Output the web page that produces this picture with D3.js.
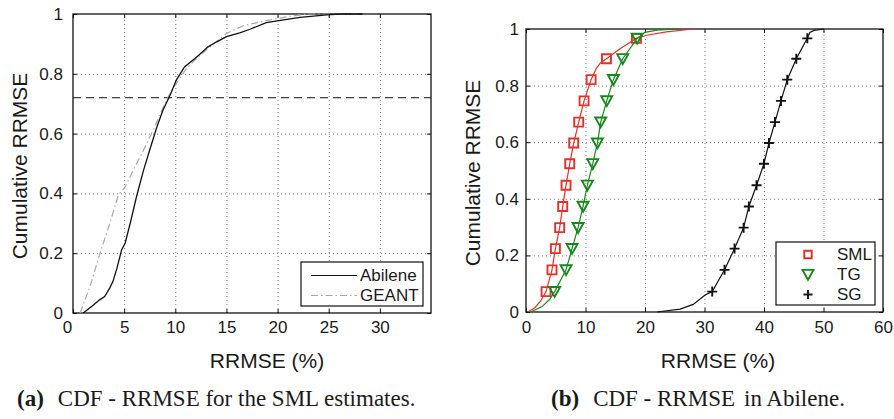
<!DOCTYPE html>
<html lang="en">
<head>
    <meta charset="UTF-8">
    <title>CDF - RRMSE</title>
    <style>
        body, html {
            margin: 0;
            padding: 0;
            background: #fff;
            overflow: hidden;
        }
        text {
            font-family: "Liberation Sans", Arial, sans-serif;
            fill: #1a1a1a;
        }
        .caption text, text.caption {
            font-family: "Liberation Serif", "Times New Roman", serif;
        }
    </style>
</head>
<body>
    <script src="https://d3js.org/d3.v7.min.js"></script>
    <script>
        // ---- panel (a): SML estimates, Abilene vs GEANT ----
        var abileneX = [1.0, 2.0, 2.6, 3.1, 3.6, 3.9, 4.3, 4.75, 5.1, 5.6, 6.2, 6.9, 7.5, 8.2, 8.8, 9.5, 10.1, 10.9, 12.1, 13.2, 14.05, 15.0, 16.3, 17.3, 18.9, 20.6, 22.2, 24.8, 26.1, 28.3];
        var abileneY = [0, 0.027, 0.044, 0.055, 0.084, 0.105, 0.15, 0.211, 0.234, 0.301, 0.388, 0.478, 0.545, 0.622, 0.679, 0.729, 0.779, 0.823, 0.856, 0.89, 0.907, 0.924, 0.937, 0.949, 0.971, 0.98, 0.989, 0.997, 1, 1];
        var geantX = [0.7, 1.66, 2.64, 3.6, 4.43, 5.1, 5.9, 6.9, 7.85, 8.7, 9.3, 10.1, 11.1, 12.1, 13.2, 15.0, 16.6, 18.3, 20.6, 22.8, 28.2];
        var geantY = [0, 0.088, 0.2, 0.3, 0.394, 0.422, 0.478, 0.545, 0.612, 0.679, 0.723, 0.768, 0.818, 0.852, 0.885, 0.935, 0.96, 0.974, 0.989, 1, 1];
        var refLevel = 0.72;
        var xTicksA = [0, 5, 10, 15, 20, 25, 30];

        // ---- panel (b): Abilene, SML vs TG vs SG ----
        var markerY = [0.072, 0.149, 0.224, 0.298, 0.373, 0.448, 0.524, 0.597, 0.671, 0.746, 0.821, 0.895, 0.967];
        var smlMarkX = [3.37, 4.37, 4.94, 5.66, 6.17, 6.73, 7.35, 8.02, 8.86, 9.76, 10.94, 13.52, 18.56];
        var tgMarkX = [4.82, 6.73, 7.74, 8.75, 9.59, 10.32, 11.22, 12.0, 12.56, 13.57, 14.69, 16.26, 18.68];
        var sgMarkX = [31.3, 33.37, 35.05, 36.57, 37.46, 38.75, 39.99, 40.83, 41.84, 42.85, 43.91, 45.43, 47.28];

        var smlLineX = [0.3, 1.5, 2.5, 3.37, 4.37, 4.94, 5.66, 6.17, 6.73, 7.35, 8.02, 8.86, 9.76, 10.94, 11.8, 12.5, 13.52, 15.8, 18.56, 20.3, 23.6, 28.1];
        var smlLineY = [0, 0.015, 0.04, 0.072, 0.149, 0.224, 0.298, 0.373, 0.448, 0.524, 0.597, 0.671, 0.746, 0.821, 0.86, 0.88, 0.895, 0.93, 0.967, 0.978, 0.99, 1];
        var tgLineX = [0.8, 2.7, 4.0, 4.82, 6.73, 7.74, 8.75, 9.59, 10.32, 11.22, 12.0, 12.56, 13.57, 14.69, 16.26, 18.68, 20, 22, 25.5];
        var tgLineY = [0, 0.019, 0.045, 0.072, 0.149, 0.224, 0.298, 0.373, 0.448, 0.524, 0.597, 0.671, 0.746, 0.821, 0.895, 0.967, 0.988, 0.996, 1];
        var sgLineX = [22, 25.9, 28.1, 30.1, 31.3, 33.37, 35.05, 36.57, 37.46, 38.75, 39.99, 40.83, 41.84, 42.85, 43.91, 45.43, 47.28, 47.7, 48.4, 50.1];
        var sgLineY = [0, 0.01, 0.027, 0.06, 0.072, 0.149, 0.224, 0.298, 0.373, 0.448, 0.524, 0.597, 0.671, 0.746, 0.821, 0.895, 0.967, 0.988, 0.995, 1];
        var xTicksB = [0, 10, 20, 30, 40, 50, 60];

        var yTicks = [0, 0.2, 0.4, 0.6, 0.8, 1];
        var yTickLabels = ["0", "0.2", "0.4", "0.6", "0.8", "1"];

        var red = "#e3312a", green = "#17871c";

        var svg = d3.select("body").append("svg")
            .attr("width", 894)
            .attr("height", 419);

        function zip(xs, ys) {
            return xs.map(function(d, i) { return [d, ys[i]]; });
        }

        // draws the frame, grid, ticks and labels; returns the scales
        function drawFrame(o) {
            var x = d3.scaleLinear().domain(o.xDomain).range([o.left, o.right]);
            var y = d3.scaleLinear().domain([0, 1]).range([o.bottom, o.top]);
            var g = svg.append("g");
            var h = o.bottom - o.top, w = o.right - o.left;

            // dotted grid
            var grid = g.append("g").attr("class", "grid");
            grid.append("g")
                .attr("transform", "translate(0," + o.bottom + ")")
                .call(d3.axisBottom(x).tickValues(o.xTicks.filter(function(d) { return d > o.xDomain[0] && d < o.xDomain[1]; })).tickSize(-h).tickFormat(""));
            grid.append("g")
                .attr("transform", "translate(" + o.left + ",0)")
                .call(d3.axisLeft(y).tickValues([0.2, 0.4, 0.6, 0.8]).tickSize(-w).tickFormat(""));
            grid.selectAll(".domain").remove();
            grid.selectAll("line")
                .attr("stroke", "#7a7a7a")
                .attr("stroke-width", 1)
                .attr("stroke-dasharray", "1,3");

            // inward ticks on all four sides
            var bottomAxis = g.append("g")
                .attr("transform", "translate(0," + o.bottom + ")")
                .call(d3.axisBottom(x).tickValues(o.xTicks).tickSize(-4).tickPadding(o.xPad));
            g.append("g")
                .attr("transform", "translate(0," + o.top + ")")
                .call(d3.axisTop(x).tickValues(o.xTicks).tickSize(-4).tickFormat(""));
            g.append("g")
                .attr("transform", "translate(" + o.left + ",0)")
                .call(d3.axisLeft(y).tickValues(yTicks).tickSize(-4).tickPadding(o.yPad)
                    .tickFormat(function(d, i) { return yTickLabels[i]; }));
            g.append("g")
                .attr("transform", "translate(" + o.right + ",0)")
                .call(d3.axisRight(y).tickValues(yTicks).tickSize(-4).tickFormat(""));
            g.selectAll(".domain").remove();
            g.selectAll(".tick line").filter(function() { return !this.closest(".grid"); })
                .attr("stroke", "#111").attr("stroke-width", 1);
            g.selectAll(".tick text")
                .attr("font-family", "Liberation Sans, Arial, sans-serif")
                .attr("font-size", 17)
                .attr("fill", "#1a1a1a");
            if (o.zeroShift) {
                bottomAxis.selectAll(".tick text").filter(function(d) { return d === 0; })
                    .attr("dx", o.zeroShift);
            }

            // box
            g.append("rect")
                .attr("x", o.left).attr("y", o.top)
                .attr("width", w).attr("height", h)
                .attr("fill", "none").attr("stroke", "#111").attr("stroke-width", 1.3);

            // axis titles
            g.append("text")
                .attr("x", o.xLabelX).attr("y", 368)
                .attr("text-anchor", "middle")
                .attr("font-size", 21)
                .text("RRMSE (%)");
            g.append("text")
                .attr("transform", "translate(" + o.yLabelX + "," + o.yLabelY + ") rotate(-90)")
                .attr("text-anchor", "middle")
                .attr("font-size", 21)
                .text("Cumulative RRMSE");

            // caption
            var cap = g.append("text")
                .attr("class", "caption")
                .attr("x", o.capX).attr("y", 406)
                .attr("font-size", 23);
            cap.append("tspan").attr("font-weight", "bold").text(o.capTag);
            cap.append("tspan").attr("dx", 14).text(o.capText1);
            if (o.capText2) cap.append("tspan").attr("dx", 9).text(o.capText2);

            return { x: x, y: y, g: g };
        }

        // ---------- panel (a) ----------
        var A = drawFrame({
            xDomain: [0, 35], xTicks: xTicksA,
            left: 73, right: 431, top: 14, bottom: 313,
            xPad: 8, yPad: 10, zeroShift: -6,
            xLabelX: 267, yLabelX: 27, yLabelY: 166,
            capX: 17, capTag: "(a)", capText1: "CDF - RRMSE for the SML estimates."
        });
        var lineA = d3.line().x(function(d) { return A.x(d[0]); }).y(function(d) { return A.y(d[1]); });

        A.g.append("line")
            .attr("x1", A.x(0)).attr("x2", A.x(35))
            .attr("y1", A.y(refLevel)).attr("y2", A.y(refLevel))
            .attr("stroke", "#111").attr("stroke-width", 1)
            .attr("stroke-dasharray", "8,5");
        A.g.append("path")
            .datum(zip(geantX, geantY))
            .attr("d", lineA)
            .attr("fill", "none").attr("stroke", "#a8a8a8").attr("stroke-width", 1.2)
            .attr("stroke-dasharray", "7,3,1.5,3");
        A.g.append("path")
            .datum(zip(abileneX, abileneY))
            .attr("d", lineA)
            .attr("fill", "none").attr("stroke", "#111").attr("stroke-width", 1.3);

        // legend (a)
        var legA = A.g.append("g");
        legA.append("rect").attr("x", 301).attr("y", 262).attr("width", 122).attr("height", 44)
            .attr("fill", "#fff").attr("stroke", "#111").attr("stroke-width", 1.2);
        var legAItems = [
            { name: "Abilene", stroke: "#111", dash: null },
            { name: "GEANT", stroke: "#a8a8a8", dash: "7,3,1.5,3" }
        ];
        legAItems.forEach(function(it, i) {
            var cy = 275.5 + i * 20;
            legA.append("line").attr("x1", 311).attr("x2", 357).attr("y1", cy).attr("y2", cy)
                .attr("stroke", it.stroke).attr("stroke-width", 1.2)
                .attr("stroke-dasharray", it.dash);
            legA.append("text").attr("x", 360).attr("y", cy).attr("dy", "0.35em")
                .attr("font-size", 17).text(it.name);
        });

        // ---------- panel (b) ----------
        var B = drawFrame({
            xDomain: [0, 60], xTicks: xTicksB,
            left: 526, right: 883, top: 29, bottom: 312,
            xPad: 9, yPad: 7,
            xLabelX: 718, yLabelX: 480, yLabelY: 173,
            capX: 551, capTag: "(b)", capText1: "CDF - RRMSE", capText2: "in Abilene."
        });
        var lineB = d3.line().x(function(d) { return B.x(d[0]); }).y(function(d) { return B.y(d[1]); });

        function markerPath(type, s) {
            if (type === "square") return "M" + (-s / 2) + "," + (-s / 2) + "h" + s + "v" + s + "h" + (-s) + "Z";
            if (type === "tri") return "M" + (-s / 2) + "," + (-s * 0.42) + "L" + (s / 2) + "," + (-s * 0.42) + "L0," + (s * 0.48) + "Z";
            return "M" + (-s / 2) + ",0H" + (s / 2) + "M0," + (-s / 2) + "V" + (s / 2);
        }

        var seriesB = [
            { name: "SML", color: red, lx: smlLineX, ly: smlLineY, mx: smlMarkX, type: "square", size: 9, legSize: 7.5 },
            { name: "TG", color: green, lx: tgLineX, ly: tgLineY, mx: tgMarkX, type: "tri", size: 11, legSize: 11 },
            { name: "SG", color: "#111", lx: sgLineX, ly: sgLineY, mx: sgMarkX, type: "plus", size: 10, legSize: 9 }
        ];

        seriesB.forEach(function(s) {
            B.g.append("path")
                .datum(zip(s.lx, s.ly))
                .attr("d", lineB)
                .attr("fill", "none").attr("stroke", s.color).attr("stroke-width", 1.2);
            B.g.append("g").selectAll("path")
                .data(zip(s.mx, markerY))
                .enter().append("path")
                .attr("transform", function(d) { return "translate(" + B.x(d[0]) + "," + B.y(d[1]) + ")"; })
                .attr("d", markerPath(s.type, s.size))
                .attr("fill", "none").attr("stroke", s.color).attr("stroke-width", 1.9);
        });

        // legend (b)
        var legB = B.g.append("g");
        legB.append("rect").attr("x", 776).attr("y", 242).attr("width", 99).attr("height", 63)
            .attr("fill", "#fff").attr("stroke", "#111").attr("stroke-width", 1.2);
        seriesB.forEach(function(s, i) {
            var cy = 254.5 + i * 20;
            legB.append("path")
                .attr("transform", "translate(808," + cy + ")")
                .attr("d", markerPath(s.type, s.legSize))
                .attr("fill", "none").attr("stroke", s.color).attr("stroke-width", 1.9);
            legB.append("text").attr("x", 837).attr("y", cy).attr("dy", "0.35em")
                .attr("font-size", 17).text(s.name);
        });
    </script>
</body>
</html>
